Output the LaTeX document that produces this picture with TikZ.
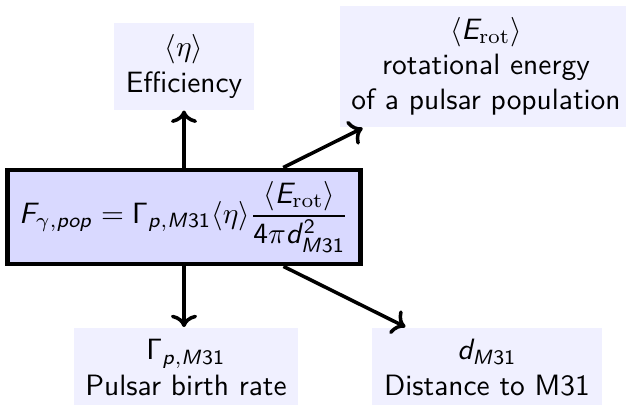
\documentclass[tikz,border=0pt]{standalone}
\usepackage{amsmath}
\usetikzlibrary{arrows.meta}
\DeclareMathAlphabet{\mathsfit}{OT1}{cmss}{m}{sl}
\newcommand{\sv}[1]{\mathsfit{#1}}

\begin{document}
\begin{tikzpicture}[
  x=0.34pt, y=-0.34pt,
  qty/.style={fill=blue!6, align=center, inner sep=4pt, font=\sffamily},
  formula/.style={draw, line width=1.4pt, fill=blue!15, inner sep=4pt},
  arrow/.style={->, line width=1.2pt}
]
\useasboundingbox (0,0) rectangle (626,405);
\node[formula] (flux) at (184,217)
  {$\sv{F}_{\gamma,\sv{pop}} = \mathsf{\Gamma}_{\sv{p},\sv{M}\mathsf{31}}\langle\eta\rangle
   \dfrac{\langle \sv{E}_{\mathrm{rot}}\rangle}{\mathsf{4}\pi \sv{d}^{\mathsf{2}}_{\sv{M}\mathsf{31}}}$};
\node[qty] (eta) at (184,66.5) {$\langle\eta\rangle$\\Efficiency};
\node[qty] (erot) at (486,66.5) {$\langle \sv{E}_{\mathrm{rot}}\rangle$\\rotational energy\\of a pulsar population};
\node[qty] (birth) at (186,367.5) {$\mathsf{\Gamma}_{\sv{p},\sv{M}\mathsf{31}}$\\Pulsar birth rate};
\node[qty] (dist) at (487,367.5) {$\sv{d}_{\sv{M}\mathsf{31}}$\\Distance to M31};
\draw[arrow] (flux.north) -- (flux.north |- eta.south);
\draw[arrow] (flux) -- (erot);
\draw[arrow] (flux.south) -- (flux.south |- birth.north);
\draw[arrow] (flux) -- (dist);
\end{tikzpicture}
\end{document}
